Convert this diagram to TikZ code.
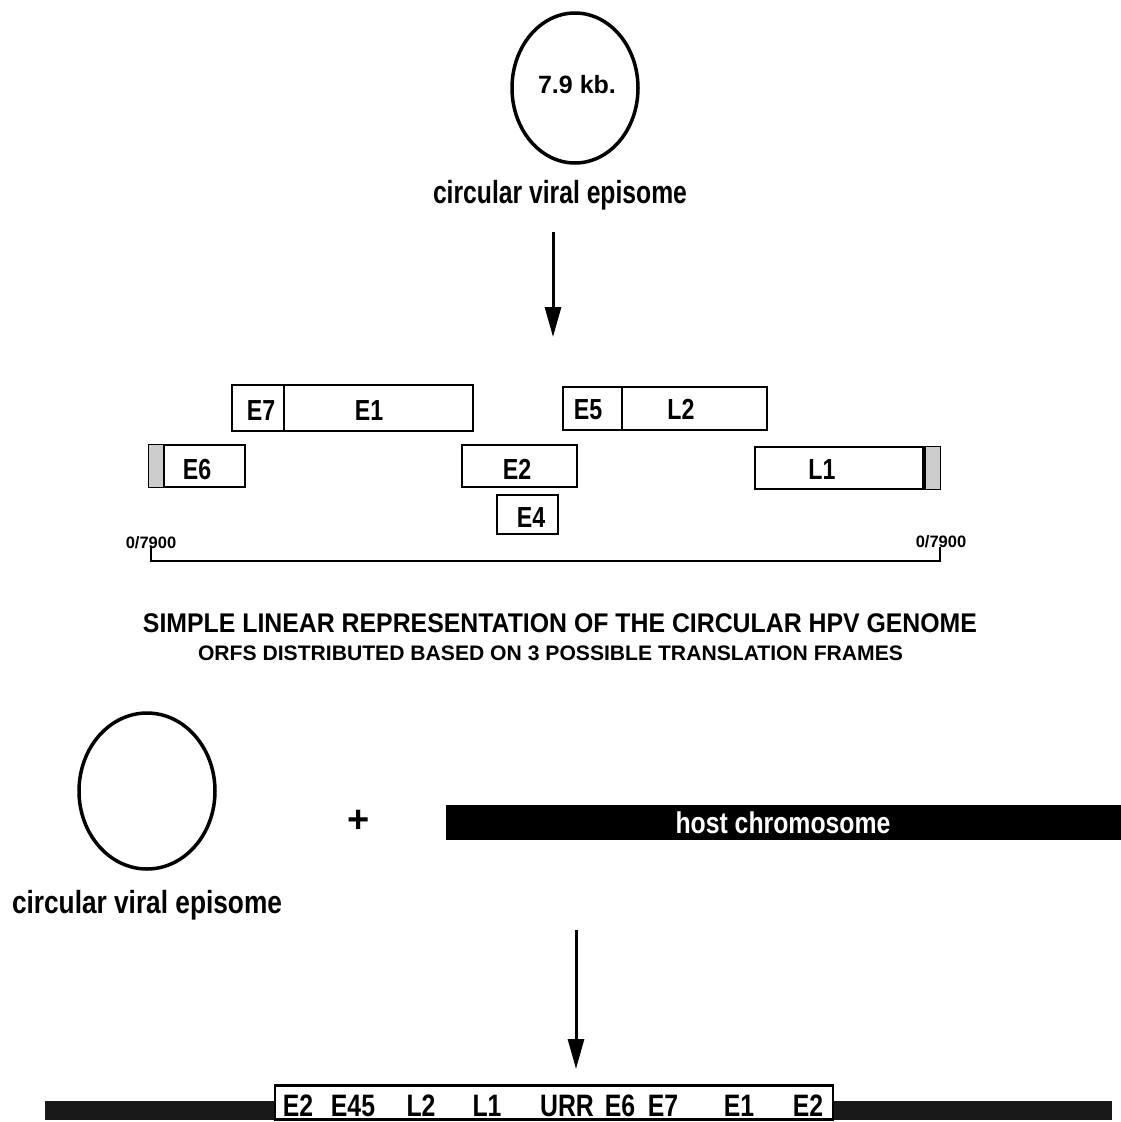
\documentclass[tikz,border=0pt]{standalone}
\usepackage{fontspec}
\usepackage{graphicx}
\usetikzlibrary{shapes.geometric,arrows.meta}
\newfontfamily\cf{Liberation Sans}[FakeStretch=0.8]
\newfontfamily\nf{Liberation Sans}
\tikzset{
  epi/.style={ellipse, draw, line width=3.5pt, inner sep=0pt},
  gbox/.style={draw, line width=2.5pt, inner sep=0pt},
  lab/.style={font=\cf\bfseries\fontsize{29}{29}\selectfont, inner sep=0pt, anchor=base},
  blab/.style={font=\cf\bfseries\fontsize{31}{31}\selectfont, inner sep=0pt, anchor=base},
  txt/.style={inner sep=0pt, anchor=base},
  arr/.style={line width=3pt, -{Triangle[length=30pt,width=16pt]}},
  scl/.style={line width=2.5pt}
}
\begin{document}
\begin{tikzpicture}[x=1pt,y=-1pt]
\useasboundingbox (0,0) rectangle (1121,1122);
% top episome
\node[epi, minimum width=126pt, minimum height=150pt] (c1) at (575,88) {};
\node[txt, font=\nf\bfseries\fontsize{25}{25}\selectfont] (kb) at (577,93) {7.9 kb.};
\node[txt, font=\cf\bfseries\fontsize{32}{32}\selectfont] (t1) at (560,203) {\resizebox{254pt}{\height}{circular viral episome}};
\coordinate (a1s) at (553,232);
\coordinate (a1e) at (553,337);
\draw[arr] (a1s) -- (a1e);
% row 1
\node[gbox, minimum width=52pt, minimum height=46pt] (be7) at (258,408) {};
\node[gbox, minimum width=189pt, minimum height=46pt] (be1) at (378.5,408) {};
\node[lab] (le7) at (261,420) {E7};
\node[lab] (le1) at (369,420) {E1};
\node[gbox, minimum width=59pt, minimum height=43pt] (be5) at (592.5,408.5) {};
\node[gbox, minimum width=145pt, minimum height=43pt] (bl2) at (694.5,408.5) {};
\node[lab] (le5) at (588,419) {E5};
\node[lab] (ll2) at (681,419) {L2};
% row 2
\node[gbox, minimum width=96pt, minimum height=42pt] (be6) at (197,466) {};
\fill[gray!40] ([xshift=1.25pt,yshift=-1.25pt]be6.north west) rectangle ([xshift=16pt,yshift=1.25pt]be6.south west);
\draw[line width=2pt] ([xshift=16pt]be6.north west) -- ([xshift=16pt]be6.south west);
\node[lab] (le6) at (197,479) {E6};
\node[gbox, minimum width=115pt, minimum height=42pt] (be2) at (519.5,466) {};
\node[lab] (le2) at (517,479) {E2};
\node[gbox, minimum width=61pt, minimum height=39pt] (be4) at (527.5,514.5) {};
\node[lab] (le4) at (531,527) {E4};
\node[gbox, minimum width=185pt, minimum height=42pt] (bl1) at (847.5,468) {};
\fill[gray!40] ([xshift=-15pt,yshift=-1.25pt]bl1.north east) rectangle ([xshift=-1.25pt,yshift=1.25pt]bl1.south east);
\draw[line width=4pt] ([xshift=-17pt]bl1.north east) -- ([xshift=-17pt]bl1.south east);
\node[lab] (ll1) at (822,479) {L1};
% scale
\coordinate (s1) at (151,547);
\coordinate (s2) at (151,561);
\coordinate (s3) at (940,561);
\coordinate (s4) at (940,547);
\draw[scl] (s1) -- (s2) -- (s3) -- (s4);
\node[txt, font=\nf\bfseries\fontsize{16.5}{16.5}\selectfont] (z1) at (151,548) {0/7900};
\node[txt, font=\nf\bfseries\fontsize{16.5}{16.5}\selectfont] (z2) at (941,547) {0/7900};
% titles
\node[txt, font=\nf\bfseries\fontsize{27}{27}\selectfont] (h1) at (560,632) {\resizebox{834pt}{\height}{SIMPLE LINEAR REPRESENTATION OF THE CIRCULAR HPV GENOME}};
\node[txt, font=\nf\bfseries\fontsize{21}{21}\selectfont] (h2) at (550.5,660) {\resizebox{705pt}{\height}{ORFS DISTRIBUTED BASED ON 3 POSSIBLE TRANSLATION FRAMES}};
% lower part
\node[epi, minimum width=136pt, minimum height=156pt] (c2) at (147,791) {};
\node[txt, font=\cf\bfseries\fontsize{32}{32}\selectfont] (t2) at (147,913) {\resizebox{270pt}{\height}{circular viral episome}};
\node[inner sep=0pt, font=\nf\bfseries\fontsize{38}{38}\selectfont] (plus) at (359,821) {+};
\node[fill=black, inner sep=0pt, minimum width=675pt, minimum height=35pt] (host) at (783.5,822.5) {};
\node[txt, text=white, font=\cf\bfseries\fontsize{30}{30}\selectfont] (hl) at (783,833) {\resizebox{215pt}{\height}{host chromosome}};
\coordinate (a2s) at (576,930);
\coordinate (a2e) at (576,1069);
\draw[arr] (a2s) -- (a2e);
% integrated
\node[fill=black!90, inner sep=0pt, minimum width=1067pt, minimum height=19pt] (bar) at (578.5,1110.5) {};
\node[gbox, fill=white, minimum width=558pt, minimum height=34pt] (ins) at (554,1102.5) {};
\node[blab] (b1) at (298,1116) {E2};
\node[blab] (b2) at (353,1116) {E45};
\node[blab] (b3) at (421,1116) {L2};
\node[blab] (b4) at (487,1116) {L1};
\node[blab] (b5) at (567,1116) {URR};
\node[blab] (b6) at (620,1116) {E6};
\node[blab] (b7) at (663,1116) {E7};
\node[blab] (b8) at (739,1116) {E1};
\node[blab] (b9) at (808,1116) {E2};
\end{tikzpicture}
\end{document}
